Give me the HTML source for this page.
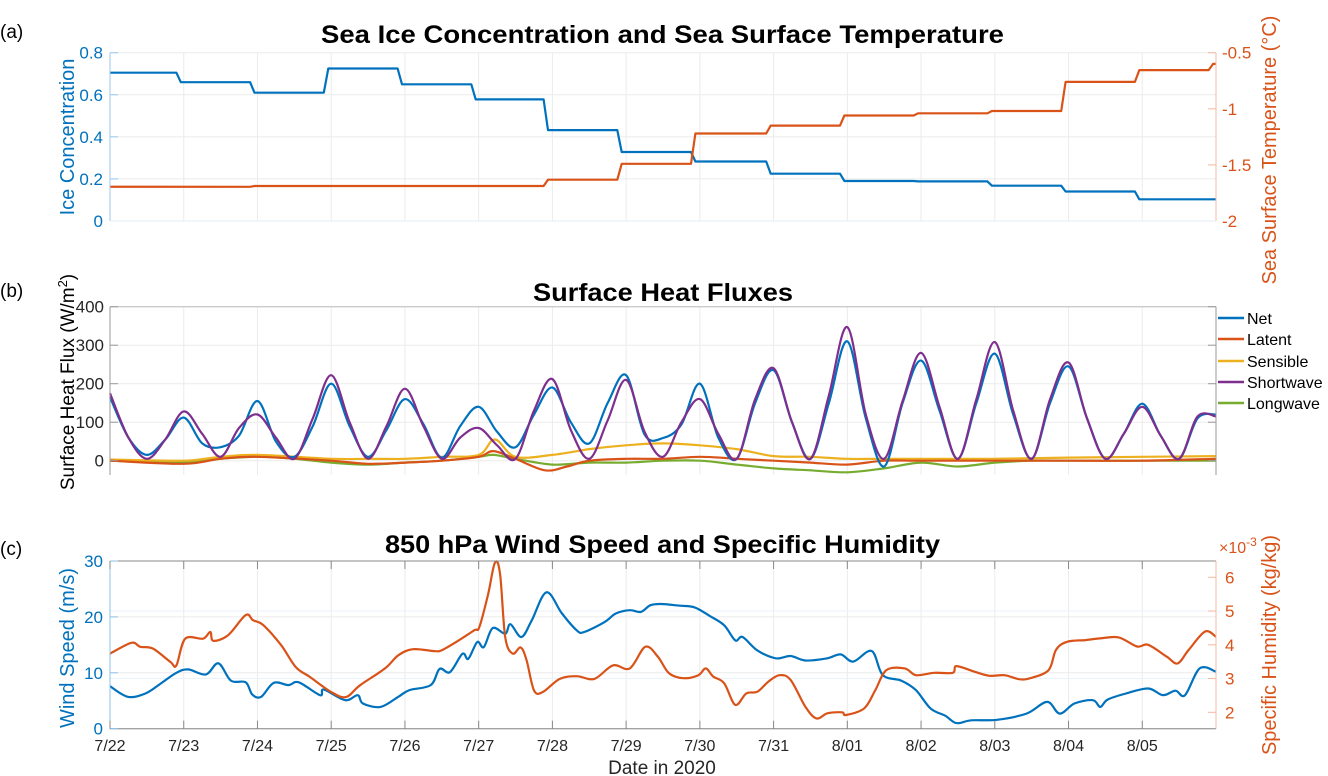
<!DOCTYPE html>
<html><head><meta charset="utf-8"><style>
html,body{margin:0;padding:0;background:#fff;}
svg{display:block;font-family:"Liberation Sans",Arial,sans-serif;}
</style></head><body>
<svg id="fig" width="1328" height="776" viewBox="0 0 1328 776" xmlns="http://www.w3.org/2000/svg">
<g id="gridA"></g>
<g id="gridB"></g>
<g id="gridC"></g>
<g id="series"></g>
<g id="axes"></g>

<text x="0" y="38" font-size="19" fill="#000">(a)</text>
<text x="0" y="297" font-size="19" fill="#000">(b)</text>
<text x="0" y="555" font-size="19" fill="#000">(c)</text>

<text x="321" y="43" font-size="25" font-weight="bold" textLength="683" lengthAdjust="spacingAndGlyphs">Sea Ice Concentration and Sea Surface Temperature</text>
<text x="533" y="301" font-size="25" font-weight="bold" textLength="260" lengthAdjust="spacingAndGlyphs">Surface Heat Fluxes</text>
<text x="385" y="553" font-size="25" font-weight="bold" textLength="555" lengthAdjust="spacingAndGlyphs">850 hPa Wind Speed and Specific Humidity</text>

<text transform="translate(74,137) rotate(-90)" font-size="20" fill="#0072BD" text-anchor="middle">Ice Concentration</text>
<text transform="translate(1276,150) rotate(-90)" font-size="20" fill="#D95319" text-anchor="middle">Sea Surface Temperature (°C)</text>
<text transform="translate(74,382) rotate(-90)" font-size="19" fill="#000" text-anchor="middle">Surface Heat Flux (W/m<tspan dy="-7" font-size="13">2</tspan><tspan dy="7">)</tspan></text>
<text transform="translate(74,648) rotate(-90)" font-size="20" fill="#0072BD" text-anchor="middle">Wind Speed (m/s)</text>
<text transform="translate(1276,645) rotate(-90)" font-size="20" fill="#D95319" text-anchor="middle">Specific Humidity (kg/kg)</text>
<text x="1219" y="553" font-size="16" fill="#D95319">×10<tspan dy="-7" font-size="12">-3</tspan></text>
<text x="662" y="774" font-size="19" text-anchor="middle" fill="#262626">Date in 2020</text>

<g>
<g><line x1="1218" y1="318" x2="1244" y2="318" stroke="#0072BD" stroke-width="2.5"/><text x="1247" y="324" font-size="16">Net</text></g>
<g><line x1="1218" y1="339" x2="1244" y2="339" stroke="#D95319" stroke-width="2.5"/><text x="1247" y="345" font-size="16">Latent</text></g>
<g><line x1="1218" y1="361" x2="1244" y2="361" stroke="#EDB120" stroke-width="2.5"/><text x="1247" y="367" font-size="16">Sensible</text></g>
<g><line x1="1218" y1="382" x2="1244" y2="382" stroke="#7E2F8E" stroke-width="2.5"/><text x="1247" y="388" font-size="16">Shortwave</text></g>
<g><line x1="1218" y1="403" x2="1244" y2="403" stroke="#77AC30" stroke-width="2.5"/><text x="1247" y="409" font-size="16">Longwave</text></g>
</g>
</svg>
<script>
// ---- data ----
const dateLabels = ["7/22","7/23","7/24","7/25","7/26","7/27","7/28","7/29","7/30","7/31","8/01","8/02","8/03","8/04","8/05"];
// panel a: step series
const iceSteps = [0.9,1.9,2.9,3.9,4.9,5.88,6.88,7.88,8.9,9.9,10.9,11.9,12.9,13.9];
const iceVals = [0.705,0.66,0.61,0.725,0.65,0.578,0.432,0.328,0.283,0.225,0.19,0.188,0.168,0.14,0.103];
const sstSteps = [1.9,5.88,6.88,7.88,8.9,9.9,10.9,11.9,12.9,13.9,14.9];
const sstVals = [-1.695,-1.688,-1.632,-1.49,-1.22,-1.15,-1.06,-1.04,-1.02,-0.76,-0.655,-0.6];
const iceTicks = [0,0.2,0.4,0.6,0.8];
const sstTicks = [-2,-1.5,-1,-0.5];
const sstTickLabels = ["-2","-1.5","-1","-0.5"];
// panel b: quarter-day series
const netVals = [165, 60,15,55,112, 45,35,65,155, 50,10,90,200, 90,10,80,160, 95,8,90,140, 75,35,120,190, 100,45,150,222, 68,59,94,200, 60,5,150,235, 100,5,150,310, 110,-15,150,260, 130,5,150,278, 120,5,150,245, 110,5,70,148, 65,5,110,120];
const swVals = [175, 60,5,55,128, 70,10,85,120, 60,5,110,222, 100,5,90,187, 90,5,60,85, 40,5,130,212, 80,5,105,210, 75,10,100,160, 70,5,160,240, 100,5,170,347, 120,5,155,280, 140,5,160,308, 130,5,160,255, 110,5,70,140, 65,5,115,115];
const latDays = [0,1,1.5,2,3,3.5,4,4.5,5,5.2,5.5,5.9,6.2,6.5,7,7.5,8,8.5,9,9.5,10,10.5,11,12,13,14,15];
const latVals = [0,-8,5,10,0,-8,-5,0,10,25,5,-25,-15,0,5,5,10,5,0,-5,-10,0,0,0,0,0,5];
const senDays = [0,1,1.5,2,3,3.5,4,4.5,5,5.22,5.5,6,6.5,7,7.5,8,8.5,9,9.5,10,10.5,11,12,13,14,15];
const senVals = [3,0,10,15,5,5,5,10,15,55,10,15,30,40,45,40,30,12,10,5,5,5,5,8,10,12];
const lwDays = [0,1,1.5,2,2.5,3,3.5,4,4.5,5,5.2,5.5,6,6.5,7,7.5,8,8.5,9,9.5,10,10.5,11,11.5,12,12.5,13,14,15];
const lwVals = [0,-5,5,10,5,-5,-10,-5,0,10,15,5,-10,-5,-5,0,0,-10,-20,-25,-30,-20,-5,-15,-5,0,0,0,0];
const fluxTicks = [0,100,200,300,400];
// panel c
const windDays = [0,.24,.48,.68,.9,1.06,1.3,1.47,1.64,1.84,1.93,2.05,2.22,2.42,2.56,2.85,2.9,3.19,3.36,3.43,3.67,3.91,4.06,4.35,4.47,4.61,4.78,4.86,4.98,5.07,5.19,5.36,5.43,5.58,5.72,5.92,6.13,6.33,6.43,6.71,6.86,7.05,7.2,7.33,7.48,7.73,7.93,8.13,8.33,8.48,8.58,8.78,9.03,9.23,9.43,9.73,9.91,10.08,10.33,10.48,10.73,10.93,11.13,11.33,11.48,11.68,12.03,12.43,12.71,12.88,13.08,13.33,13.43,13.53,13.78,14.08,14.28,14.45,14.58,14.78,15];
const windVals = [7.6,5.7,6.3,8.0,10.0,10.6,9.7,11.7,8.6,8.3,6.1,5.7,8.2,7.8,8.3,6.0,7.0,5.1,6.0,4.5,3.9,5.7,6.9,7.8,10.7,10.1,13.4,12.5,15.5,14.6,18.0,17.0,18.7,16.4,19.4,24.4,20.6,17.6,17.3,19.1,20.6,21.2,20.9,22.1,22.3,22.0,21.7,20.2,18.5,15.8,16.4,14.0,12.6,13.0,12.2,12.6,13.3,12.0,13.9,9.6,8.6,6.9,3.6,2.3,1.0,1.5,1.6,2.7,4.8,2.7,4.5,5.1,3.9,5.2,6.3,7.2,6.0,6.8,6.0,10.8,10.2];
const humDays = [0,.29,.41,.58,.82,.9,1.02,1.26,1.36,1.4,1.6,1.84,1.94,2.08,2.32,2.52,2.71,3.0,3.2,3.39,3.73,3.91,4.11,4.41,4.5,4.7,4.94,5.01,5.13,5.22,5.29,5.36,5.46,5.57,5.65,5.75,5.87,6.1,6.33,6.57,6.82,7.05,7.26,7.43,7.58,7.78,7.98,8.08,8.18,8.33,8.48,8.63,8.78,8.93,9.08,9.23,9.43,9.58,9.73,9.93,9.98,10.23,10.38,10.53,10.78,10.93,11.18,11.43,11.48,11.73,11.93,12.13,12.33,12.48,12.73,12.83,12.98,13.23,13.43,13.68,13.93,14.08,14.33,14.48,14.63,14.85,15];
const humVals = [3.74,4.06,3.94,3.89,3.49,3.39,4.18,4.18,4.38,4.12,4.28,4.88,4.73,4.58,3.99,3.34,3.05,2.6,2.45,2.8,3.3,3.69,3.87,3.81,3.84,4.09,4.43,4.53,5.52,6.43,6.11,4.23,3.74,3.92,3.54,2.65,2.6,2.99,3.07,2.99,3.39,3.3,3.94,3.65,3.16,3.01,3.1,3.3,3.06,2.86,2.22,2.56,2.61,2.91,3.1,2.96,2.17,1.82,1.97,2.0,1.92,2.12,2.66,3.25,3.3,3.1,3.17,3.17,3.37,3.2,3.08,3.1,2.98,3.01,3.25,3.85,4.09,4.14,4.19,4.22,3.95,4.0,3.65,3.45,3.85,4.39,4.24];
const windTicks = [0,10,20,30];
const humTicks = [2,3,4,5,6];

// ---- scales ----
const X0 = 110, X1 = 1216, NDAYS = 15;
const xs = d => X0 + d * (X1 - X0) / NDAYS;
const lin = (d0,d1,r0,r1) => v => r0 + (v - d0) * (r1 - r0) / (d1 - d0);
const yIce = lin(0, 0.8, 221, 52.7);
const ySst = lin(-2, -0.5, 221, 52.7);
const yFlux = lin(0, 400, 460.7, 306.7);
const FLUX_BOT = 475;
const yWind = lin(0, 30, 728.7, 561);
const yHum = lin(2, 6, 712.3, 577.3);
const NS = 'http://www.w3.org/2000/svg';
function mk(tag, attrs, parent){
  const e = document.createElementNS(NS, tag);
  for (const k in attrs) e.setAttribute(k, attrs[k]);
  parent.appendChild(e); return e;
}
const G = id => document.getElementById(id);
function smoothPath(pts){
  let d = 'M' + pts[0][0].toFixed(1) + ',' + pts[0][1].toFixed(1);
  for (let i = 0; i < pts.length - 1; i++){
    const p0 = pts[Math.max(0,i-1)], p1 = pts[i], p2 = pts[i+1], p3 = pts[Math.min(pts.length-1,i+2)];
    const c1x = p1[0] + (p2[0]-p0[0])/6, c1y = p1[1] + (p2[1]-p0[1])/6;
    const c2x = p2[0] - (p3[0]-p1[0])/6, c2y = p2[1] - (p3[1]-p1[1])/6;
    d += 'C' + c1x.toFixed(1)+','+c1y.toFixed(1)+' '+c2x.toFixed(1)+','+c2y.toFixed(1)+' '+p2[0].toFixed(1)+','+p2[1].toFixed(1);
  }
  return d;
}
function stepPath(steps, vals, ys){
  let d = 'M' + xs(0) + ',' + ys(vals[0]);
  for (let i = 0; i < steps.length; i++){
    d += 'L' + xs(steps[i]).toFixed(1) + ',' + ys(vals[i]).toFixed(1);
    d += 'L' + xs(steps[i] + 0.06).toFixed(1) + ',' + ys(vals[i+1]).toFixed(1);
  }
  d += 'L' + xs(NDAYS) + ',' + ys(vals[vals.length-1]).toFixed(1);
  return d;
}
const quarter = vals => vals.map((v,i) => [i*0.25, v]);
const paired = (days, vals) => days.map((d,i) => [d, vals[i]]);

// ---- grids ----
function grid(g, top, bot, yTicks, ys){
  for (let i = 0; i <= NDAYS; i++){
    const l = mk('line', {x1: xs(i), x2: xs(i), y1: top, y2: bot, stroke: '#ebebeb', 'stroke-width': 1}, g);
    
    
  }
  yTicks.forEach(t => {
    const l = mk('line', {x1: X0, x2: X1, y1: ys(t), y2: ys(t), stroke: '#ebebeb', 'stroke-width': 1}, g);
    
    
  });
}
grid(G('gridA'), 52.7, 221, iceTicks, yIce);
grid(G('gridB'), 306.7, FLUX_BOT, fluxTicks, yFlux);
grid(G('gridC'), 561, 728.7, windTicks, yWind);
[3,5].forEach(t => {
  const l = mk('line', {x1: X0, x2: X1, y1: yHum(t), y2: yHum(t), stroke: '#eaf2fb', 'stroke-width': 1}, G('gridC'));
  
  
});

// ---- series ----
const S = G('series');
function line(d, color, name){
  const p = mk('path', {d: d, fill: 'none', stroke: color, 'stroke-width': 2.2, 'stroke-linejoin': 'round'}, S);
  
  
}
const toPx = (pairs, ys) => pairs.map(p => [xs(p[0]), ys(p[1])]);
line(stepPath(iceSteps, iceVals, yIce), '#0072BD', 'ice-concentration-line');
line(stepPath(sstSteps, sstVals, ySst), '#D95319', 'sst-line');
line(smoothPath(toPx(paired(lwDays, lwVals), yFlux)), '#77AC30', 'longwave-line');
line(smoothPath(toPx(paired(senDays, senVals), yFlux)), '#EDB120', 'sensible-line');
line(smoothPath(toPx(paired(latDays, latVals), yFlux)), '#D95319', 'latent-line');
line(smoothPath(toPx(quarter(netVals), yFlux)), '#0072BD', 'net-flux-line');
line(smoothPath(toPx(quarter(swVals), yFlux)), '#7E2F8E', 'shortwave-line');
line(smoothPath(toPx(paired(windDays, windVals), yWind)), '#0072BD', 'wind-speed-line');
line(smoothPath(toPx(paired(humDays, humVals), yHum)), '#D95319', 'humidity-line');

// ---- axes ----
const A = G('axes');
function ax(x1,y1,x2,y2,c,name){
  const l = mk('line', {x1:x1,y1:y1,x2:x2,y2:y2,stroke:c,'stroke-width':1}, A);
  
  
}
function lab(x,y,txt,c,anchor,name,size){
  const t = mk('text', {x:x,y:y,fill:c,'font-size':size||16,'text-anchor':anchor}, A);
  t.textContent = txt;
  
  
}
// panel a
ax(X0,52.7,X0,221,'#9cc7ea','ice-y-axis');
ax(X1,52.7,X1,221,'#f4b8a0','sst-y-axis');
iceTicks.forEach(t => { ax(X0,yIce(t),X0+8,yIce(t),'#9cc7ea','ice-tick'); lab(X0-7,yIce(t)+6,String(t),'#0072BD','end','ice-tick-label',17); });
sstTicks.forEach((t,i) => { ax(X1-8,ySst(t),X1,ySst(t),'#f4b8a0','sst-tick'); lab(X1+6,ySst(t)+6,sstTickLabels[i],'#D95319','start','sst-tick-label',17); });
ax(X0,221,X1,221,'#e3edf7','panel-a-x-axis');
// panel b
ax(X0,306.7,X0,FLUX_BOT,'#999','flux-y-axis');
ax(X1,306.7,X1,FLUX_BOT,'#999','flux-right-axis');
ax(X0,306.7,X1,306.7,'#bbb','flux-top-border');
fluxTicks.forEach(t => { ax(X0,yFlux(t),X0+8,yFlux(t),'#999','flux-tick'); ax(X1-8,yFlux(t),X1,yFlux(t),'#999','flux-tick-right'); lab(X0-6,yFlux(t)+6,String(t),'#262626','end','flux-tick-label',17); });
// panel c
ax(X0,561,X1,561,'#888','panel-c-top-border');
ax(X0,728.7,X1,728.7,'#888','x-axis');
ax(X0,561,X0,728.7,'#8cc0ea','wind-y-axis');
ax(X1,561,X1,728.7,'#f4b8a0','humidity-y-axis');
windTicks.forEach(t => { ax(X0,yWind(t),X0+8,yWind(t),'#8cc0ea','wind-tick'); lab(X0-7,yWind(t)+6,String(t),'#0072BD','end','wind-tick-label',17); });
humTicks.forEach(t => { ax(X1-8,yHum(t),X1,yHum(t),'#f4b8a0','humidity-tick'); lab(X1+9,yHum(t)+6,String(t),'#D95319','start','humidity-tick-label',17); });
dateLabels.forEach((s,i) => {
  ax(xs(i),728.7,xs(i),720.7,'#888','x-tick');
  ax(xs(i),561,xs(i),569,'#888','x-tick-top');
  lab(xs(i),751,s,'#262626','middle','x-tick-label',16);
});
</script>
</body></html>
